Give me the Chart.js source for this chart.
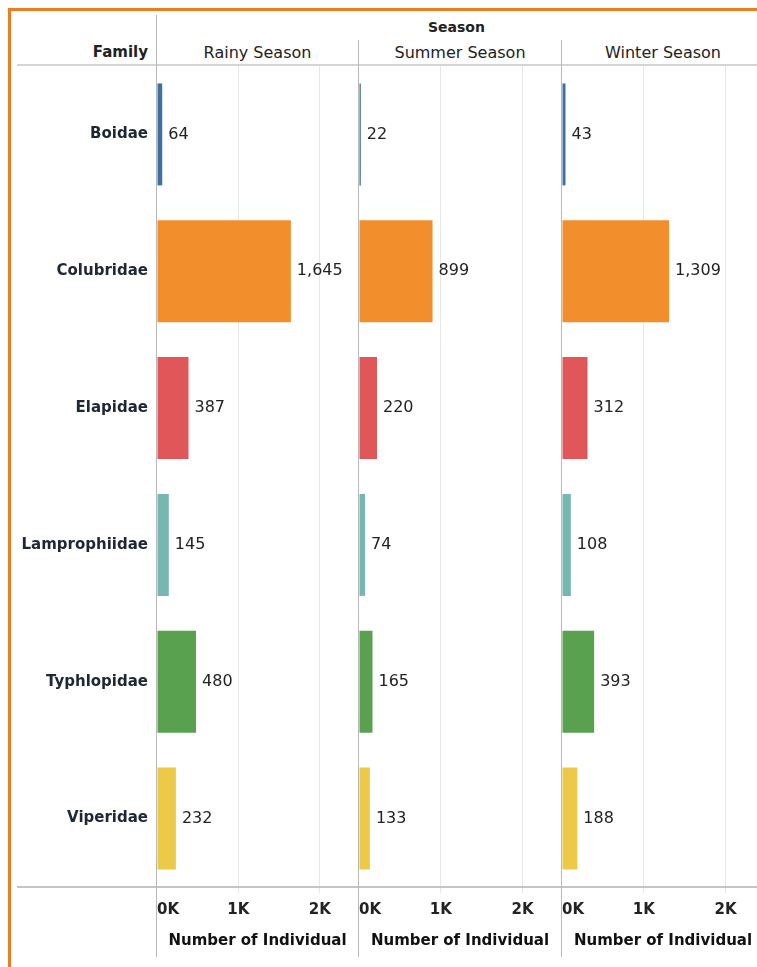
<!DOCTYPE html>
<html>
<head>
<meta charset="utf-8">
<script src="https://cdn.jsdelivr.net/npm/chart.js@4.4.1/dist/chart.umd.min.js"></script>
<style>
  body { margin: 0; width: 757px; height: 967px; overflow: hidden; background: #fff; font-family: "DejaVu Sans", sans-serif; }
  canvas { position: absolute; }
  .ln { position: absolute; }
  .txt { position: absolute; color: #222; white-space: nowrap; }
</style>
</head>
<body>
<!-- orange frame -->
<div class="ln" style="left:8px;top:8px;width:760px;height:3px;background:#ec7c22"></div>
<div class="ln" style="left:8px;top:8px;width:3px;height:970px;background:#ec7c22"></div>

<canvas id="c1" width="358" height="901" style="left:0;top:66px"></canvas>
<canvas id="c2" width="202" height="901" style="left:359px;top:66px"></canvas>
<canvas id="c3" width="202" height="901" style="left:562px;top:66px"></canvas>

<!-- header texts -->
<div class="txt" style="left:156px;width:601px;top:19px;text-align:center;font-weight:bold;font-size:14px">Season</div>
<div class="txt" style="left:20px;width:128px;top:43px;text-align:right;font-weight:bold;font-size:15px">Family</div>
<div class="txt" style="left:157px;width:201px;top:43px;text-align:center;font-size:16px">Rainy Season</div>
<div class="txt" style="left:359px;width:202px;top:43px;text-align:center;font-size:16px">Summer Season</div>
<div class="txt" style="left:562px;width:202px;top:43px;text-align:center;font-size:16px">Winter Season</div>

<!-- rules and panel dividers -->
<div class="ln" style="left:17px;top:64px;width:740px;height:2px;background:#d4d4d4"></div>
<div class="ln" style="left:17px;top:886px;width:740px;height:2px;background:#c4c4c4"></div>
<div class="ln" style="left:156px;top:15px;width:1px;height:942px;background:#b8b8b8"></div>
<div class="ln" style="left:358px;top:40px;width:1px;height:917px;background:#b8b8b8"></div>
<div class="ln" style="left:561px;top:40px;width:1px;height:917px;background:#b8b8b8"></div>

<script>
const families = ['Boidae', 'Colubridae', 'Elapidae', 'Lamprophiidae', 'Typhlopidae', 'Viperidae'];
const rainy = [64, 1645, 387, 145, 480, 232];
const summer = [22, 899, 220, 74, 165, 133];
const winter = [43, 1309, 312, 108, 393, 188];
const tickValues = [0, 1000, 2000];
const axisMax = 2470;
const colors = ['#3f6fa4', '#f28e2b', '#e15759', '#76b7b2', '#59a14f', '#edc948'];

const FONT = '"DejaVu Sans", sans-serif';

// value labels to the right of each bar
const valueLabels = {
  id: 'valueLabels',
  afterDatasetsDraw(chart) {
    const ctx = chart.ctx;
    const meta = chart.getDatasetMeta(0);
    const vals = chart.data.datasets[0].data;
    ctx.save();
    ctx.font = '16px ' + FONT;
    ctx.fillStyle = '#222';
    ctx.textBaseline = 'middle';
    ctx.textAlign = 'left';
    meta.data.forEach((bar, i) => {
      ctx.fillText(vals[i].toLocaleString('en-US'), bar.x + 6, bar.y);
    });
    ctx.restore();
  }
};

function makePanel(id, values, showFamilies) {
  new Chart(document.getElementById(id), {
    type: 'bar',
    data: {
      labels: families,
      datasets: [{
        data: values,
        backgroundColor: colors,
        borderWidth: 0,
        categoryPercentage: 1,
        barPercentage: 0.745
      }]
    },
    options: {
      indexAxis: 'y',
      responsive: false,
      animation: false,
      devicePixelRatio: 1,
      layout: { padding: 0 },
      plugins: { legend: { display: false }, tooltip: { enabled: false } },
      scales: {
        y: {
          display: showFamilies,
          grid: { display: false, drawTicks: false },
          border: { display: false },
          ticks: {
            padding: 9,
            color: '#1e2735',
            font: { family: FONT, size: 15, weight: 'bold' }
          },
          afterFit(s) {
            s.width = showFamilies ? 157 : 0;
            s.paddingTop = 0;
            s.paddingBottom = 0;
          }
        },
        x: {
          min: 0,
          max: axisMax,
          afterBuildTicks(s) {
            s.ticks = tickValues.concat([axisMax]).map(v => ({ value: v }));
          },
          grid: {
            color: c => (c.tick && (c.tick.value === 0 || c.tick.value === axisMax)) ? 'rgba(0,0,0,0)' : '#e6e6e6',
            tickLength: 6
          },
          border: { display: false },
          ticks: {
            align: 'inner',
            padding: 8,
            maxRotation: 0,
            autoSkip: false,
            color: '#222',
            font: { family: FONT, size: 15, weight: 'bold' },
            callback: v => (v === axisMax ? '' : (v / 1000) + 'K')
          },
          title: {
            display: true,
            text: 'Number of Individual',
            color: '#111',
            font: { family: FONT, size: 15, weight: 'bold' },
            padding: { top: 6, bottom: 17 }
          },
          afterFit(s) {
            s.height = 80;
            s.paddingLeft = 0;
            s.paddingRight = 0;
          }
        }
      }
    },
    plugins: [valueLabels]
  });
}

makePanel('c1', rainy, true);
makePanel('c2', summer, false);
makePanel('c3', winter, false);
</script>
</body>
</html>
